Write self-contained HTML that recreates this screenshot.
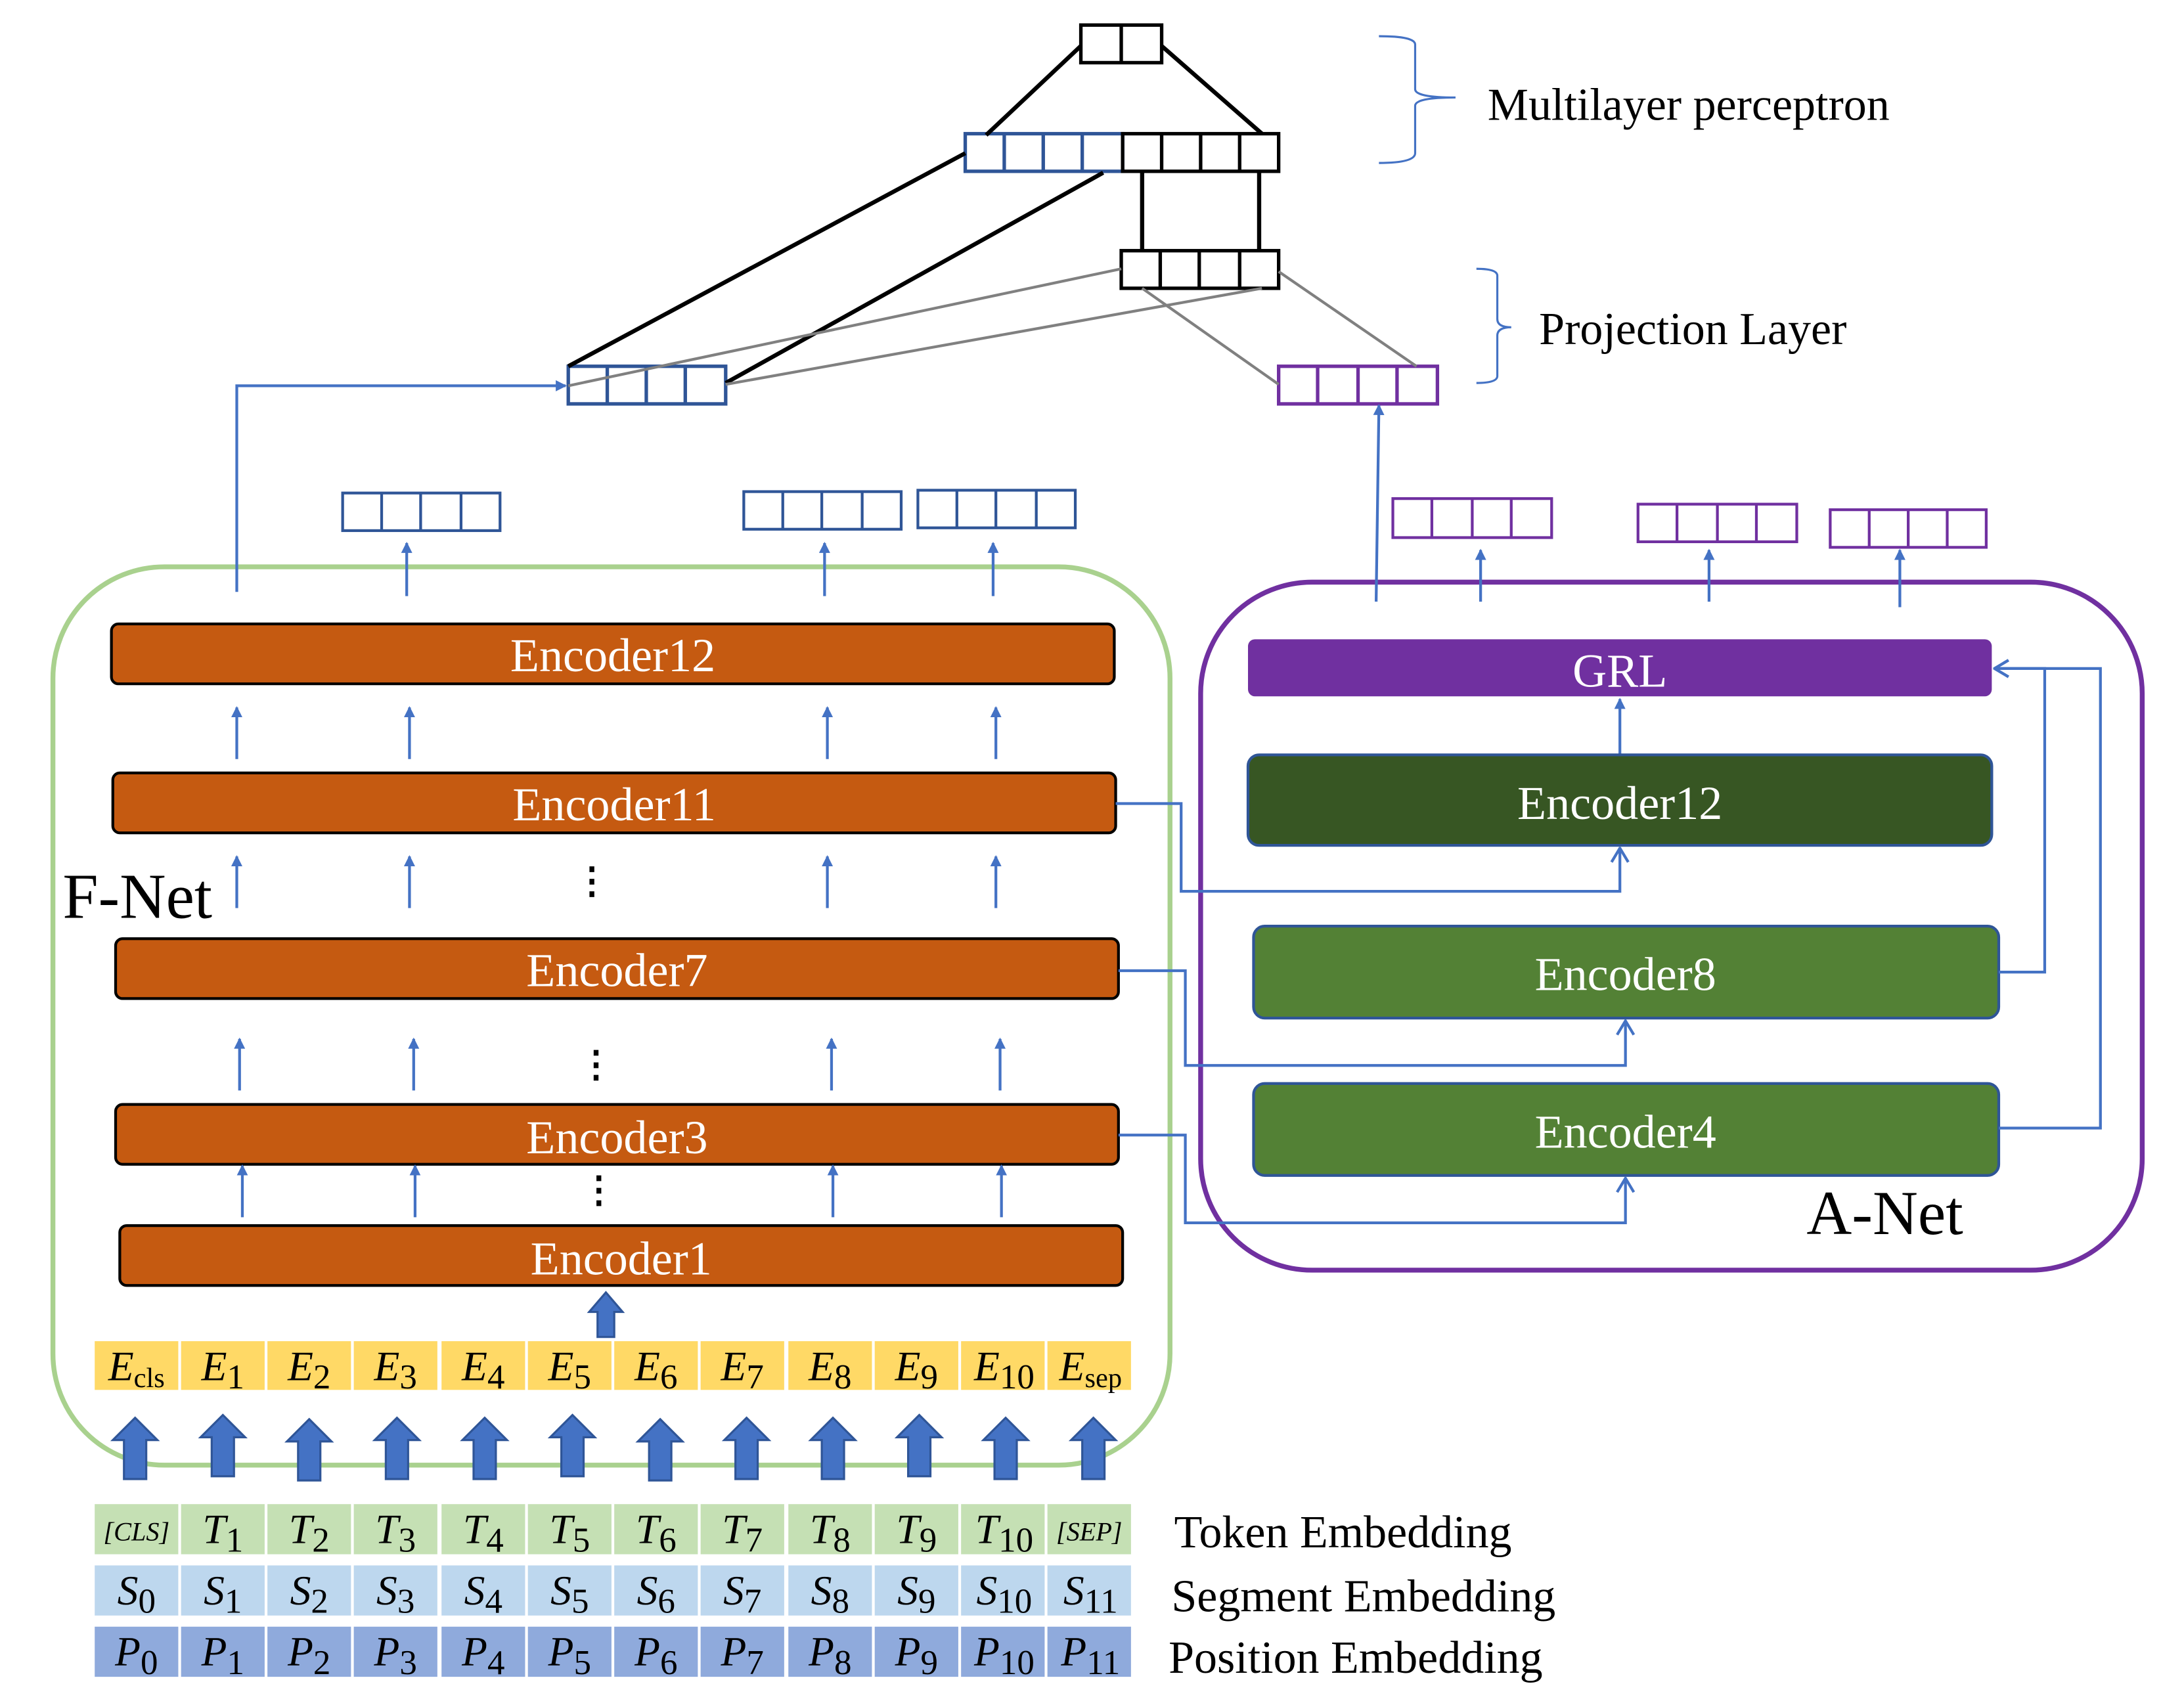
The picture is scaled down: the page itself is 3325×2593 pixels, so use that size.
<!DOCTYPE html>
<html><head><meta charset="utf-8"><style>html,body{margin:0;padding:0;background:#fff}svg{display:block}</style></head>
<body>
<svg width="3325" height="2593" viewBox="0 0 1568 1222.8" preserveAspectRatio="none" xmlns="http://www.w3.org/2000/svg" font-family="'Liberation Serif', serif">
<defs>
<marker id="ah" markerWidth="8" markerHeight="8" refX="7" refY="4" orient="auto" markerUnits="userSpaceOnUse"><path d="M0,0 L8,4 L0,8 z" fill="#4472C4"/></marker>
<marker id="oa" markerWidth="12" markerHeight="14" refX="11" refY="7" orient="auto" markerUnits="userSpaceOnUse"><path d="M1,1 L11,7 L1,13" fill="none" stroke="#4472C4" stroke-width="2"/></marker>
</defs>
<g fill="none" stroke-width="2.5">
<rect x="776" y="18" width="58" height="27" stroke="#000"/><line x1="805" y1="18" x2="805" y2="45" stroke="#000"/>
<rect x="693" y="96" width="113" height="27" stroke="#2F5597"/>
<line x1="721" y1="96" x2="721" y2="123" stroke="#2F5597"/><line x1="749" y1="96" x2="749" y2="123" stroke="#2F5597"/><line x1="777" y1="96" x2="777" y2="123" stroke="#2F5597"/>
<rect x="806" y="96" width="112" height="27" stroke="#000"/>
<line x1="834" y1="96" x2="834" y2="123" stroke="#000"/><line x1="862" y1="96" x2="862" y2="123" stroke="#000"/><line x1="890" y1="96" x2="890" y2="123" stroke="#000"/>
<rect x="805" y="180" width="113" height="27" stroke="#000"/>
<line x1="833" y1="180" x2="833" y2="207" stroke="#000"/><line x1="861" y1="180" x2="861" y2="207" stroke="#000"/><line x1="890" y1="180" x2="890" y2="207" stroke="#000"/>
<rect x="408" y="263" width="113" height="27" stroke="#2F5597"/>
<line x1="436" y1="263" x2="436" y2="290" stroke="#2F5597"/><line x1="464" y1="263" x2="464" y2="290" stroke="#2F5597"/><line x1="492" y1="263" x2="492" y2="290" stroke="#2F5597"/>
<rect x="918" y="263" width="114" height="27" stroke="#7030A0"/>
<line x1="946" y1="263" x2="946" y2="290" stroke="#7030A0"/><line x1="975" y1="263" x2="975" y2="290" stroke="#7030A0"/><line x1="1003" y1="263" x2="1003" y2="290" stroke="#7030A0"/>
</g>
<g stroke="#000" stroke-width="3">
<line x1="776" y1="33" x2="708" y2="97"/><line x1="834" y1="33" x2="906" y2="96"/>
<line x1="693" y1="110" x2="408" y2="263"/><line x1="792" y1="124" x2="521" y2="275"/>
<line x1="820" y1="123" x2="820" y2="180"/><line x1="904" y1="123" x2="904" y2="180"/>
</g>
<g stroke="#808080" stroke-width="2">
<line x1="805" y1="193" x2="408" y2="277"/><line x1="906" y1="207" x2="521" y2="276"/>
<line x1="820" y1="207" x2="918" y2="276"/><line x1="918" y1="195" x2="1017" y2="263"/>
</g>
<g fill="none" stroke="#4472C4" stroke-width="1.5">
<path d="M990,26 Q1016,26 1016,32 L1016,64 Q1016,70 1045,70 Q1016,70 1016,76 L1016,110 Q1016,117 990,117"/>
<path d="M1060,193 Q1075,193 1075,198 L1075,229 Q1075,235 1085,235 Q1075,235 1075,241 L1075,270 Q1075,275 1060,275"/>
</g>
<text x="1068" y="86" font-size="33">Multilayer perceptron</text>
<text x="1105" y="247" font-size="33">Projection Layer</text>
<g fill="none" stroke-width="2">
<g stroke="#2F5597">
<rect x="246" y="354" width="113" height="27"/><path d="M274,354v27M302,354v27M331,354v27"/>
<rect x="534" y="353" width="113" height="27"/><path d="M562,353v27M590,353v27M619,353v27"/>
<rect x="659" y="352" width="113" height="27"/><path d="M687,352v27M715,352v27M744,352v27"/>
</g>
<g stroke="#7030A0">
<rect x="1000" y="358" width="114" height="28"/><path d="M1028,358v28M1057,358v28M1085,358v28"/>
<rect x="1176" y="362" width="114" height="27"/><path d="M1204,362v27M1233,362v27M1261,362v27"/>
<rect x="1314" y="366" width="112" height="27"/><path d="M1342,366v27M1370,366v27M1398,366v27"/>
</g>
</g>
<rect x="38" y="407" width="802" height="645" rx="80" fill="none" stroke="#A9D18E" stroke-width="3.5"/>
<rect x="862" y="418" width="676" height="494" rx="80" fill="none" stroke="#7030A0" stroke-width="3.5"/>
<g stroke="#000" stroke-width="2" fill="#C55A11">
<rect x="80" y="448" width="720" height="43" rx="5"/>
<rect x="81" y="555" width="720" height="43" rx="5"/>
<rect x="83" y="674" width="720" height="43" rx="5"/>
<rect x="83" y="793" width="720" height="43" rx="5"/>
<rect x="86" y="880" width="720" height="43" rx="5"/>
</g>
<g fill="#fff" font-size="34" text-anchor="middle">
<text x="440" y="482">Encoder12</text><text x="441" y="589">Encoder11</text><text x="443" y="708">Encoder7</text><text x="443" y="828">Encoder3</text><text x="446" y="915">Encoder1</text>
</g>
<text x="45" y="659" font-size="46">F-Net</text>
<text x="1297" y="886" font-size="45">A-Net</text>
<g font-size="26" text-anchor="middle" font-weight="bold"><text x="425" y="641">⋮</text><text x="428" y="773">⋮</text><text x="430" y="863">⋮</text></g>
<g stroke="#4472C4" stroke-width="2" marker-end="url(#ah)">
<line x1="170" y1="545" x2="170" y2="508"/><line x1="294" y1="545" x2="294" y2="508"/><line x1="594" y1="545" x2="594" y2="508"/><line x1="715" y1="545" x2="715" y2="508"/>
<line x1="170" y1="652" x2="170" y2="615"/><line x1="294" y1="652" x2="294" y2="615"/><line x1="594" y1="652" x2="594" y2="615"/><line x1="715" y1="652" x2="715" y2="615"/>
<line x1="172" y1="783" x2="172" y2="746"/><line x1="297" y1="783" x2="297" y2="746"/><line x1="597" y1="783" x2="597" y2="746"/><line x1="718" y1="783" x2="718" y2="746"/>
<line x1="174" y1="874" x2="174" y2="837"/><line x1="298" y1="874" x2="298" y2="837"/><line x1="598" y1="874" x2="598" y2="837"/><line x1="719" y1="874" x2="719" y2="837"/>
<line x1="292" y1="428" x2="292" y2="390"/><line x1="592" y1="428" x2="592" y2="390"/><line x1="713" y1="428" x2="713" y2="390"/>
<line x1="1063" y1="432" x2="1063" y2="395"/><line x1="1227" y1="432" x2="1227" y2="395"/><line x1="1364" y1="436" x2="1364" y2="395"/>
<line x1="1163" y1="542" x2="1163" y2="502"/>
<polyline points="170,425 170,277 406,277" fill="none"/>
<line x1="988" y1="432" x2="990" y2="291"/>
</g>
<rect x="896" y="459" width="534" height="41" rx="5" fill="#7030A0"/>
<g stroke="#2F5597" stroke-width="2">
<rect x="896" y="542" width="534" height="65" rx="8" fill="#375623"/>
<rect x="900" y="665" width="535" height="66" rx="8" fill="#538135"/>
<rect x="900" y="778" width="535" height="66" rx="8" fill="#538135"/>
</g>
<g fill="#fff" font-size="34" text-anchor="middle">
<text x="1163" y="493">GRL</text><text x="1163" y="588">Encoder12</text><text x="1167" y="711">Encoder8</text><text x="1167" y="824">Encoder4</text>
</g>
<g stroke="#4472C4" stroke-width="2" fill="none" marker-end="url(#oa)">
<polyline points="801,577 848,577 848,640 1163,640 1163,609"/>
<polyline points="803,697 851,697 851,765 1167,765 1167,733"/>
<polyline points="803,815 851,815 851,878 1167,878 1167,846"/>
<polyline points="1435,698 1468,698 1468,480 1432,480"/>
<polyline points="1435,810 1508,810 1508,480 1432,480"/>
</g>
<path d="M429,960 L429,942 L423,942 L435,928 L447,942 L441,942 L441,960 z" fill="#4472C4" stroke="#2F5597" stroke-width="1.5"/>
<g fill="#FFD966">
<rect x="68" y="963" width="60" height="35"/><rect x="130" y="963" width="60" height="35"/><rect x="192" y="963" width="60" height="35"/><rect x="254" y="963" width="60" height="35"/><rect x="317" y="963" width="60" height="35"/><rect x="379" y="963" width="60" height="35"/><rect x="441" y="963" width="60" height="35"/><rect x="503" y="963" width="60" height="35"/><rect x="566" y="963" width="60" height="35"/><rect x="628" y="963" width="60" height="35"/><rect x="690" y="963" width="60" height="35"/><rect x="752" y="963" width="60" height="35"/>
</g>
<g fill="#C5E0B4">
<rect x="68" y="1080" width="60" height="36"/><rect x="130" y="1080" width="60" height="36"/><rect x="192" y="1080" width="60" height="36"/><rect x="254" y="1080" width="60" height="36"/><rect x="317" y="1080" width="60" height="36"/><rect x="379" y="1080" width="60" height="36"/><rect x="441" y="1080" width="60" height="36"/><rect x="503" y="1080" width="60" height="36"/><rect x="566" y="1080" width="60" height="36"/><rect x="628" y="1080" width="60" height="36"/><rect x="690" y="1080" width="60" height="36"/><rect x="752" y="1080" width="60" height="36"/>
</g>
<g fill="#BDD7EE">
<rect x="68" y="1124" width="60" height="36"/><rect x="130" y="1124" width="60" height="36"/><rect x="192" y="1124" width="60" height="36"/><rect x="254" y="1124" width="60" height="36"/><rect x="317" y="1124" width="60" height="36"/><rect x="379" y="1124" width="60" height="36"/><rect x="441" y="1124" width="60" height="36"/><rect x="503" y="1124" width="60" height="36"/><rect x="566" y="1124" width="60" height="36"/><rect x="628" y="1124" width="60" height="36"/><rect x="690" y="1124" width="60" height="36"/><rect x="752" y="1124" width="60" height="36"/>
</g>
<g fill="#8FAADC">
<rect x="68" y="1168" width="60" height="36"/><rect x="130" y="1168" width="60" height="36"/><rect x="192" y="1168" width="60" height="36"/><rect x="254" y="1168" width="60" height="36"/><rect x="317" y="1168" width="60" height="36"/><rect x="379" y="1168" width="60" height="36"/><rect x="441" y="1168" width="60" height="36"/><rect x="503" y="1168" width="60" height="36"/><rect x="566" y="1168" width="60" height="36"/><rect x="628" y="1168" width="60" height="36"/><rect x="690" y="1168" width="60" height="36"/><rect x="752" y="1168" width="60" height="36"/>
</g>
<g fill="#4472C4" stroke="#2F5597" stroke-width="1.5">
<path d="M89,1062 v-28 h-8 l16,-16 l16,16 h-8 v28 z"/>
<path d="M152,1060 v-28 h-8 l16,-16 l16,16 h-8 v28 z"/>
<path d="M214,1063 v-28 h-8 l16,-16 l16,16 h-8 v28 z"/>
<path d="M277,1062 v-28 h-8 l16,-16 l16,16 h-8 v28 z"/>
<path d="M340,1062 v-28 h-8 l16,-16 l16,16 h-8 v28 z"/>
<path d="M403,1060 v-28 h-8 l16,-16 l16,16 h-8 v28 z"/>
<path d="M466,1063 v-28 h-8 l16,-16 l16,16 h-8 v28 z"/>
<path d="M528,1062 v-28 h-8 l16,-16 l16,16 h-8 v28 z"/>
<path d="M590,1062 v-28 h-8 l16,-16 l16,16 h-8 v28 z"/>
<path d="M652,1060 v-28 h-8 l16,-16 l16,16 h-8 v28 z"/>
<path d="M714,1062 v-28 h-8 l16,-16 l16,16 h-8 v28 z"/>
<path d="M777,1062 v-28 h-8 l16,-16 l16,16 h-8 v28 z"/>
</g>
<g font-size="30" font-style="italic" text-anchor="middle">
<g>
<text x="98" y="991"><tspan>E</tspan><tspan font-style="normal" font-size="20" dy="5">cls</tspan></text>
<text x="160" y="991">E<tspan font-style="normal" font-size="25" dy="6">1</tspan></text>
<text x="222" y="991">E<tspan font-style="normal" font-size="25" dy="6">2</tspan></text>
<text x="284" y="991">E<tspan font-style="normal" font-size="25" dy="6">3</tspan></text>
<text x="347" y="991">E<tspan font-style="normal" font-size="25" dy="6">4</tspan></text>
<text x="409" y="991">E<tspan font-style="normal" font-size="25" dy="6">5</tspan></text>
<text x="471" y="991">E<tspan font-style="normal" font-size="25" dy="6">6</tspan></text>
<text x="533" y="991">E<tspan font-style="normal" font-size="25" dy="6">7</tspan></text>
<text x="596" y="991">E<tspan font-style="normal" font-size="25" dy="6">8</tspan></text>
<text x="658" y="991">E<tspan font-style="normal" font-size="25" dy="6">9</tspan></text>
<text x="721" y="991">E<tspan font-style="normal" font-size="25" dy="6">10</tspan></text>
<text x="783" y="991"><tspan>E</tspan><tspan font-style="normal" font-size="20" dy="5">sep</tspan></text>
</g>
<g>
<text x="98" y="1106" font-size="19">[CLS]</text>
<text x="160" y="1108">T<tspan font-style="normal" font-size="25" dy="6">1</tspan></text>
<text x="222" y="1108">T<tspan font-style="normal" font-size="25" dy="6">2</tspan></text>
<text x="284" y="1108">T<tspan font-style="normal" font-size="25" dy="6">3</tspan></text>
<text x="347" y="1108">T<tspan font-style="normal" font-size="25" dy="6">4</tspan></text>
<text x="409" y="1108">T<tspan font-style="normal" font-size="25" dy="6">5</tspan></text>
<text x="471" y="1108">T<tspan font-style="normal" font-size="25" dy="6">6</tspan></text>
<text x="533" y="1108">T<tspan font-style="normal" font-size="25" dy="6">7</tspan></text>
<text x="596" y="1108">T<tspan font-style="normal" font-size="25" dy="6">8</tspan></text>
<text x="658" y="1108">T<tspan font-style="normal" font-size="25" dy="6">9</tspan></text>
<text x="721" y="1108">T<tspan font-style="normal" font-size="25" dy="6">10</tspan></text>
<text x="782" y="1106" font-size="19">[SEP]</text>
</g>
<g>
<text x="98" y="1152">S<tspan font-style="normal" font-size="25" dy="6">0</tspan></text>
<text x="160" y="1152">S<tspan font-style="normal" font-size="25" dy="6">1</tspan></text>
<text x="222" y="1152">S<tspan font-style="normal" font-size="25" dy="6">2</tspan></text>
<text x="284" y="1152">S<tspan font-style="normal" font-size="25" dy="6">3</tspan></text>
<text x="347" y="1152">S<tspan font-style="normal" font-size="25" dy="6">4</tspan></text>
<text x="409" y="1152">S<tspan font-style="normal" font-size="25" dy="6">5</tspan></text>
<text x="471" y="1152">S<tspan font-style="normal" font-size="25" dy="6">6</tspan></text>
<text x="533" y="1152">S<tspan font-style="normal" font-size="25" dy="6">7</tspan></text>
<text x="596" y="1152">S<tspan font-style="normal" font-size="25" dy="6">8</tspan></text>
<text x="658" y="1152">S<tspan font-style="normal" font-size="25" dy="6">9</tspan></text>
<text x="721" y="1152">S<tspan font-style="normal" font-size="25" dy="6">10</tspan></text>
<text x="783" y="1152">S<tspan font-style="normal" font-size="25" dy="6">11</tspan></text>
</g>
<g>
<text x="98" y="1196">P<tspan font-style="normal" font-size="25" dy="6">0</tspan></text>
<text x="160" y="1196">P<tspan font-style="normal" font-size="25" dy="6">1</tspan></text>
<text x="222" y="1196">P<tspan font-style="normal" font-size="25" dy="6">2</tspan></text>
<text x="284" y="1196">P<tspan font-style="normal" font-size="25" dy="6">3</tspan></text>
<text x="347" y="1196">P<tspan font-style="normal" font-size="25" dy="6">4</tspan></text>
<text x="409" y="1196">P<tspan font-style="normal" font-size="25" dy="6">5</tspan></text>
<text x="471" y="1196">P<tspan font-style="normal" font-size="25" dy="6">6</tspan></text>
<text x="533" y="1196">P<tspan font-style="normal" font-size="25" dy="6">7</tspan></text>
<text x="596" y="1196">P<tspan font-style="normal" font-size="25" dy="6">8</tspan></text>
<text x="658" y="1196">P<tspan font-style="normal" font-size="25" dy="6">9</tspan></text>
<text x="721" y="1196">P<tspan font-style="normal" font-size="25" dy="6">10</tspan></text>
<text x="783" y="1196">P<tspan font-style="normal" font-size="25" dy="6">11</tspan></text>
</g>
</g>
<g font-size="33">
<text x="843" y="1111">Token Embedding</text>
<text x="841" y="1157">Segment Embedding</text>
<text x="839" y="1201">Position Embedding</text>
</g>
</svg>
</body></html>
